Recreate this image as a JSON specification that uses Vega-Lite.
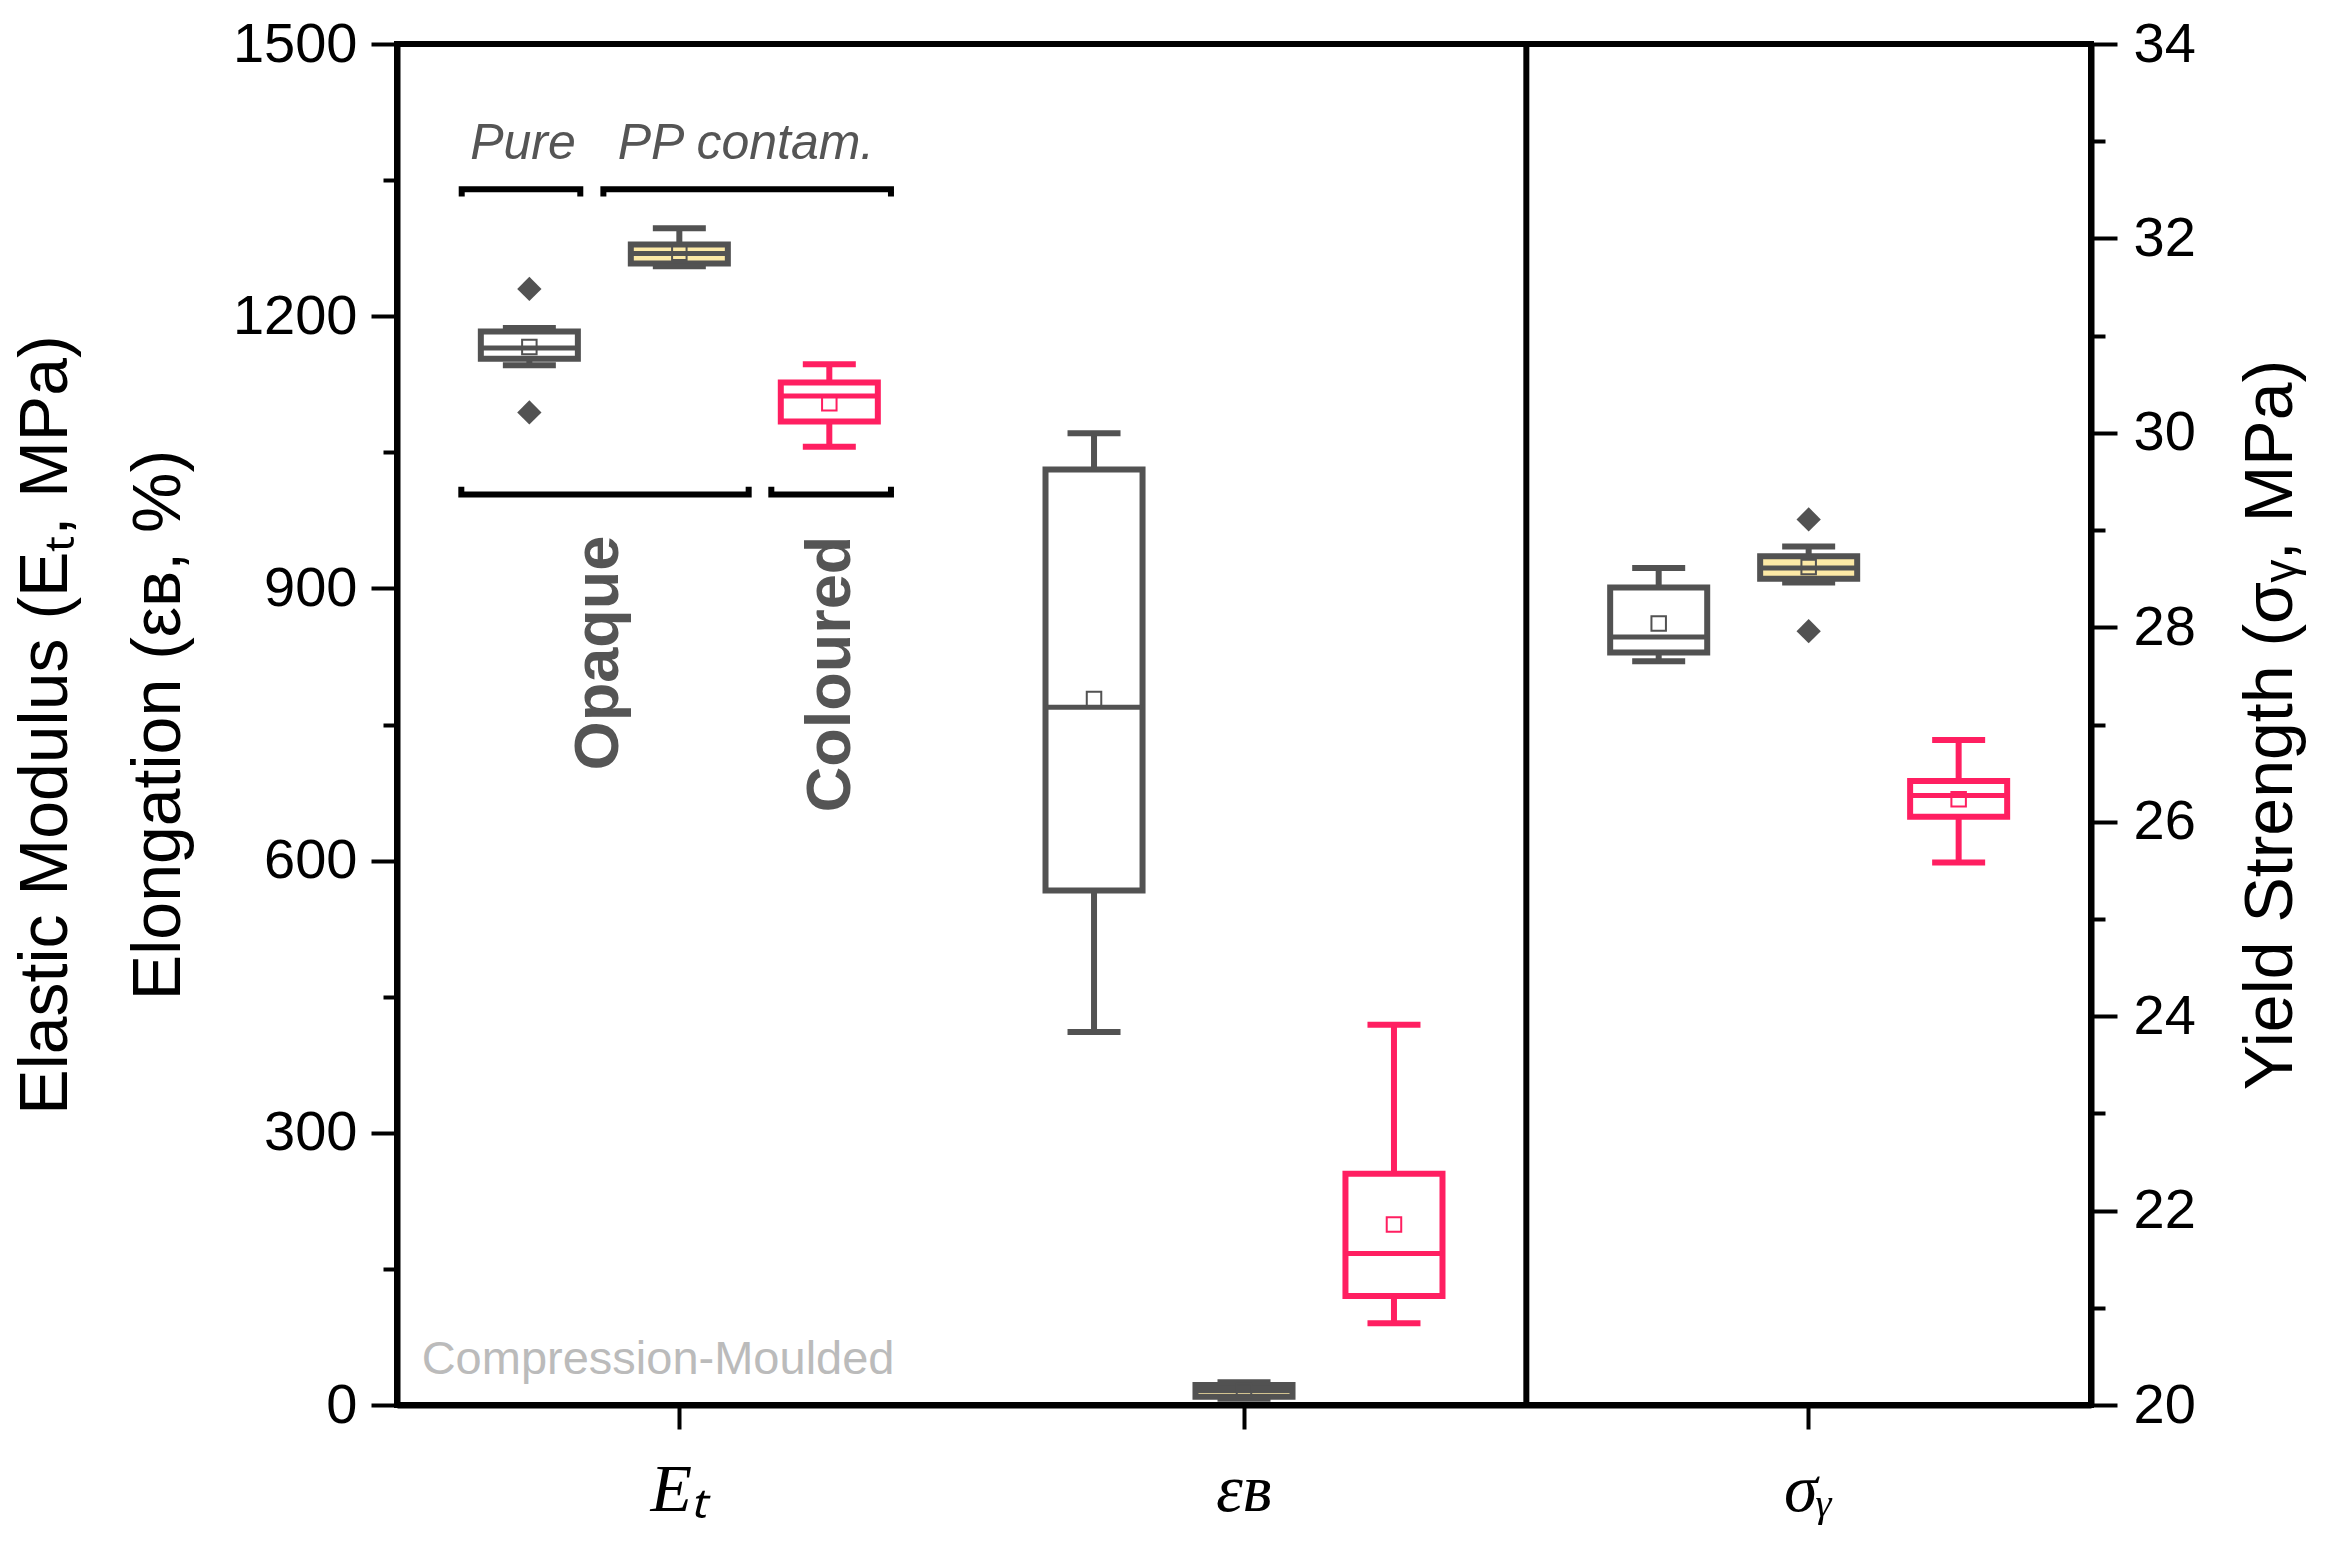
{
  "$schema": "https://vega.github.io/schema/vega-lite/v6.json",
  "autosize": "none",
  "padding": {"left": 397, "top": 44, "right": 260, "bottom": 157},
  "width": 1694,
  "height": 1361,
  "background": "white",
  "config": {
    "font": "Liberation Sans",
    "view": {"stroke": "black", "strokeWidth": 6},
    "tick": {"opacity": 1},
    "axis": {
      "domainColor": "black", "domainWidth": 6, "tickColor": "black", "tickWidth": 4,
      "labelColor": "black", "titleColor": "black", "labelFontSize": 56, "titleFontSize": 68,
      "titleFontWeight": "normal", "labelFont": "Liberation Sans", "titleFont": "Liberation Sans",
      "grid": false, "labelOverlap": false, "labelFlush": false
    }
  },
  "datasets": {
    "left": [
      {"param": "Eₜ", "grp": "Pure", "min": 1146, "q1": 1153, "median": 1165, "q3": 1183, "max": 1187, "mean": 1166},
      {"param": "Eₜ", "grp": "PP", "min": 1255, "q1": 1258, "median": 1269, "q3": 1279, "max": 1297, "mean": 1270},
      {"param": "Eₜ", "grp": "Col", "min": 1056, "q1": 1084, "median": 1112, "q3": 1127, "max": 1147, "mean": 1104},
      {"param": "εʙ", "grp": "Pure", "min": 411, "q1": 567, "median": 769, "q3": 1031, "max": 1071, "mean": 778},
      {"param": "εʙ", "grp": "PP", "min": 7, "q1": 9, "median": 16, "q3": 22, "max": 25, "mean": 16},
      {"param": "εʙ", "grp": "Col", "min": 90, "q1": 120, "median": 167, "q3": 255, "max": 419, "mean": 199}
    ],
    "right": [
      {"param": "σᵧ", "grp": "Pure", "min": 27.65, "q1": 27.74, "median": 27.90, "q3": 28.41, "max": 28.61, "mean": 28.04},
      {"param": "σᵧ", "grp": "PP", "min": 28.46, "q1": 28.50, "median": 28.61, "q3": 28.73, "max": 28.83, "mean": 28.62},
      {"param": "σᵧ", "grp": "Col", "min": 25.58, "q1": 26.05, "median": 26.27, "q3": 26.42, "max": 26.84, "mean": 26.23}
    ],
    "outLeft": [
      {"param": "Eₜ", "grp": "Pure", "v": 1230},
      {"param": "Eₜ", "grp": "Pure", "v": 1094}
    ],
    "outRight": [
      {"param": "σᵧ", "grp": "PP", "v": 29.11},
      {"param": "σᵧ", "grp": "PP", "v": 27.96}
    ],
    "brackets": [
      {"name": "Pure", "i": 0, "x": 0.1146, "y": 1332},
      {"name": "Pure", "i": 1, "x": 0.1146, "y": 1340},
      {"name": "Pure", "i": 2, "x": 0.3246, "y": 1340},
      {"name": "Pure", "i": 3, "x": 0.3246, "y": 1332},
      {"name": "PP contam.", "i": 0, "x": 0.3655, "y": 1332},
      {"name": "PP contam.", "i": 1, "x": 0.3655, "y": 1340},
      {"name": "PP contam.", "i": 2, "x": 0.8748, "y": 1340},
      {"name": "PP contam.", "i": 3, "x": 0.8748, "y": 1332},
      {"name": "Opaque", "i": 0, "x": 0.1139, "y": 1012},
      {"name": "Opaque", "i": 1, "x": 0.1139, "y": 1003.5},
      {"name": "Opaque", "i": 2, "x": 0.6228, "y": 1003.5},
      {"name": "Opaque", "i": 3, "x": 0.6228, "y": 1012},
      {"name": "Coloured", "i": 0, "x": 0.6629, "y": 1012},
      {"name": "Coloured", "i": 1, "x": 0.6629, "y": 1003.5},
      {"name": "Coloured", "i": 2, "x": 0.8748, "y": 1003.5},
      {"name": "Coloured", "i": 3, "x": 0.8748, "y": 1012}
    ],
    "groupLabels": [
      {"label": "Pure", "x": 0.2231, "y": 1373},
      {"label": "PP contam.", "x": 0.618, "y": 1373}
    ],
    "typeLabels": [
      {"label": "Opaque", "x": 0.3914, "y": 958},
      {"label": "Coloured", "x": 0.8022, "y": 958}
    ],
    "note": [
      {"label": "Compression-Moulded", "x": 0.0437, "y": 34}
    ],
    "divider": [
      {"x": 2, "y0": 0, "y1": 1500}
    ]
  },
  "resolve": {"scale": {"x": "independent", "y": "independent"}},
  "layer": [
    {
      "data": {"name": "left"},
      "encoding": {
        "x": {"field": "param", "type": "nominal", "sort": null,
          "scale": {"domain": ["Eₜ", "εʙ", "σᵧ"], "paddingInner": 0, "paddingOuter": 0, "round": false},
          "axis": {"orient": "bottom", "title": null, "labelAngle": 0, "labelFont": "Liberation Serif", "labelFontStyle": "italic", "labelFontSize": 68, "labelPadding": 27, "tickSize": 24, "tickWidth": 4}},
        "xOffset": {"field": "grp", "type": "nominal", "sort": null,
          "scale": {"domain": ["Pure", "PP", "Col"], "paddingInner": 0.353, "paddingOuter": 0.559, "round": false}}
      },
      "layer": [
        {
          "mark": {"type": "rule", "strokeWidth": 6},
          "encoding": {
            "y": {"field": "min", "type": "quantitative",
              "scale": {"domain": [0, 1500], "nice": false, "zero": false},
              "axis": {"orient": "left", "format": "d", "values": [0, 150, 300, 450, 600, 750, 900, 1050, 1200, 1350, 1500],
                "labelExpr": "datum.value % 300 === 0 ? datum.label : ''",
                "tickSize": {"condition": {"test": "datum.value % 300 === 0", "value": 26}, "value": 14},
                "labelPadding": 14, "titlePadding": 39, "titleLineHeight": 113,
                "title": ["Elastic Modulus (Eₜ, MPa)", "Elongation (εʙ, %)"]}},
            "y2": {"field": "max"},
            "color": {"field": "grp", "type": "nominal", "scale": {"domain": ["Pure", "PP", "Col"], "range": ["#525252", "#525252", "#FF1F61"]}, "legend": null}
          }
        },
        {
          "mark": {"type": "bar", "strokeWidth": 6, "strokeJoin": "miter"},
          "encoding": {
            "y": {"field": "q1", "type": "quantitative",
              "axis": {"orient": "left", "format": "d", "values": [0, 150, 300, 450, 600, 750, 900, 1050, 1200, 1350, 1500],
                "labelExpr": "datum.value % 300 === 0 ? datum.label : ''",
                "tickSize": {"condition": {"test": "datum.value % 300 === 0", "value": 26}, "value": 14},
                "labelPadding": 14, "titlePadding": 39, "titleLineHeight": 113,
                "title": ["Elastic Modulus (Eₜ, MPa)", "Elongation (εʙ, %)"]}},
            "y2": {"field": "q3"},
            "fill": {"field": "grp", "type": "nominal", "scale": {"domain": ["Pure", "PP", "Col"], "range": ["#ffffff", "#FCE9A6", "#ffffff"]}, "legend": null},
            "stroke": {"field": "grp", "type": "nominal", "scale": {"domain": ["Pure", "PP", "Col"], "range": ["#525252", "#525252", "#FF1F61"]}, "legend": null}
          }
        },
        {
          "mark": {"type": "tick", "thickness": 5, "size": 97, "opacity": 1},
          "encoding": {
            "y": {"field": "median", "type": "quantitative",
              "axis": {"orient": "left", "format": "d", "values": [0, 150, 300, 450, 600, 750, 900, 1050, 1200, 1350, 1500],
                "labelExpr": "datum.value % 300 === 0 ? datum.label : ''",
                "tickSize": {"condition": {"test": "datum.value % 300 === 0", "value": 26}, "value": 14},
                "labelPadding": 14, "titlePadding": 39, "titleLineHeight": 113,
                "title": ["Elastic Modulus (Eₜ, MPa)", "Elongation (εʙ, %)"]}},
            "color": {"field": "grp", "type": "nominal", "legend": null}
          }
        },
        {
          "mark": {"type": "tick", "thickness": 6, "size": 53, "opacity": 1},
          "encoding": {
            "y": {"field": "max", "type": "quantitative",
              "axis": {"orient": "left", "format": "d", "values": [0, 150, 300, 450, 600, 750, 900, 1050, 1200, 1350, 1500],
                "labelExpr": "datum.value % 300 === 0 ? datum.label : ''",
                "tickSize": {"condition": {"test": "datum.value % 300 === 0", "value": 26}, "value": 14},
                "labelPadding": 14, "titlePadding": 39, "titleLineHeight": 113,
                "title": ["Elastic Modulus (Eₜ, MPa)", "Elongation (εʙ, %)"]}},
            "color": {"field": "grp", "type": "nominal", "legend": null}
          }
        },
        {
          "mark": {"type": "tick", "thickness": 6, "size": 53, "opacity": 1},
          "encoding": {
            "y": {"field": "min", "type": "quantitative",
              "axis": {"orient": "left", "format": "d", "values": [0, 150, 300, 450, 600, 750, 900, 1050, 1200, 1350, 1500],
                "labelExpr": "datum.value % 300 === 0 ? datum.label : ''",
                "tickSize": {"condition": {"test": "datum.value % 300 === 0", "value": 26}, "value": 14},
                "labelPadding": 14, "titlePadding": 39, "titleLineHeight": 113,
                "title": ["Elastic Modulus (Eₜ, MPa)", "Elongation (εʙ, %)"]}},
            "color": {"field": "grp", "type": "nominal", "legend": null}
          }
        },
        {
          "mark": {"type": "point", "shape": "square", "filled": false, "size": 210, "strokeWidth": 2, "opacity": 1},
          "encoding": {
            "y": {"field": "mean", "type": "quantitative",
              "axis": {"orient": "left", "format": "d", "values": [0, 150, 300, 450, 600, 750, 900, 1050, 1200, 1350, 1500],
                "labelExpr": "datum.value % 300 === 0 ? datum.label : ''",
                "tickSize": {"condition": {"test": "datum.value % 300 === 0", "value": 26}, "value": 14},
                "labelPadding": 14, "titlePadding": 39, "titleLineHeight": 113,
                "title": ["Elastic Modulus (Eₜ, MPa)", "Elongation (εʙ, %)"]}},
            "color": {"field": "grp", "type": "nominal", "legend": null}
          }
        },
        {
          "data": {"name": "outLeft"},
          "mark": {"type": "point", "shape": "diamond", "filled": true, "size": 590, "color": "#525252", "opacity": 1},
          "encoding": {
            "y": {"field": "v", "type": "quantitative",
              "axis": {"orient": "left", "format": "d", "values": [0, 150, 300, 450, 600, 750, 900, 1050, 1200, 1350, 1500],
                "labelExpr": "datum.value % 300 === 0 ? datum.label : ''",
                "tickSize": {"condition": {"test": "datum.value % 300 === 0", "value": 26}, "value": 14},
                "labelPadding": 14, "titlePadding": 39, "titleLineHeight": 113,
                "title": ["Elastic Modulus (Eₜ, MPa)", "Elongation (εʙ, %)"]}}
          }
        }
      ]
    },
    {
      "data": {"name": "right"},
      "encoding": {
        "x": {"field": "param", "type": "nominal", "sort": null,
          "scale": {"domain": ["Eₜ", "εʙ", "σᵧ"], "paddingInner": 0, "paddingOuter": 0, "round": false},
          "axis": null},
        "xOffset": {"field": "grp", "type": "nominal", "sort": null,
          "scale": {"domain": ["Pure", "PP", "Col"], "paddingInner": 0.353, "paddingOuter": 0.559, "round": false}}
      },
      "layer": [
        {
          "mark": {"type": "rule", "strokeWidth": 6},
          "encoding": {
            "y": {"field": "min", "type": "quantitative",
              "scale": {"domain": [20, 34], "nice": false, "zero": false},
              "axis": {"orient": "right", "values": [20, 21, 22, 23, 24, 25, 26, 27, 28, 29, 30, 31, 32, 33, 34],
                "labelExpr": "datum.value % 2 === 0 ? datum.label : ''",
                "tickSize": {"condition": {"test": "datum.value % 2 === 0", "value": 26}, "value": 14},
                "labelPadding": 16, "titlePadding": 42, "titleAngle": 270, "titleBaseline": "top",
                "title": "Yield Strength (σᵧ, MPa)"}},
            "y2": {"field": "max"},
            "color": {"field": "grp", "type": "nominal", "scale": {"domain": ["Pure", "PP", "Col"], "range": ["#525252", "#525252", "#FF1F61"]}, "legend": null}
          }
        },
        {
          "mark": {"type": "bar", "strokeWidth": 6, "strokeJoin": "miter"},
          "encoding": {
            "y": {"field": "q1", "type": "quantitative",
              "axis": {"orient": "right", "values": [20, 21, 22, 23, 24, 25, 26, 27, 28, 29, 30, 31, 32, 33, 34],
                "labelExpr": "datum.value % 2 === 0 ? datum.label : ''",
                "tickSize": {"condition": {"test": "datum.value % 2 === 0", "value": 26}, "value": 14},
                "labelPadding": 16, "titlePadding": 42, "titleAngle": 270, "titleBaseline": "top",
                "title": "Yield Strength (σᵧ, MPa)"}},
            "y2": {"field": "q3"},
            "fill": {"field": "grp", "type": "nominal", "scale": {"domain": ["Pure", "PP", "Col"], "range": ["#ffffff", "#FCE9A6", "#ffffff"]}, "legend": null},
            "stroke": {"field": "grp", "type": "nominal", "scale": {"domain": ["Pure", "PP", "Col"], "range": ["#525252", "#525252", "#FF1F61"]}, "legend": null}
          }
        },
        {
          "mark": {"type": "tick", "thickness": 5, "size": 97, "opacity": 1},
          "encoding": {
            "y": {"field": "median", "type": "quantitative",
              "axis": {"orient": "right", "values": [20, 21, 22, 23, 24, 25, 26, 27, 28, 29, 30, 31, 32, 33, 34],
                "labelExpr": "datum.value % 2 === 0 ? datum.label : ''",
                "tickSize": {"condition": {"test": "datum.value % 2 === 0", "value": 26}, "value": 14},
                "labelPadding": 16, "titlePadding": 42, "titleAngle": 270, "titleBaseline": "top",
                "title": "Yield Strength (σᵧ, MPa)"}},
            "color": {"field": "grp", "type": "nominal", "legend": null}
          }
        },
        {
          "mark": {"type": "tick", "thickness": 6, "size": 53, "opacity": 1},
          "encoding": {
            "y": {"field": "max", "type": "quantitative",
              "axis": {"orient": "right", "values": [20, 21, 22, 23, 24, 25, 26, 27, 28, 29, 30, 31, 32, 33, 34],
                "labelExpr": "datum.value % 2 === 0 ? datum.label : ''",
                "tickSize": {"condition": {"test": "datum.value % 2 === 0", "value": 26}, "value": 14},
                "labelPadding": 16, "titlePadding": 42, "titleAngle": 270, "titleBaseline": "top",
                "title": "Yield Strength (σᵧ, MPa)"}},
            "color": {"field": "grp", "type": "nominal", "legend": null}
          }
        },
        {
          "mark": {"type": "tick", "thickness": 6, "size": 53, "opacity": 1},
          "encoding": {
            "y": {"field": "min", "type": "quantitative",
              "axis": {"orient": "right", "values": [20, 21, 22, 23, 24, 25, 26, 27, 28, 29, 30, 31, 32, 33, 34],
                "labelExpr": "datum.value % 2 === 0 ? datum.label : ''",
                "tickSize": {"condition": {"test": "datum.value % 2 === 0", "value": 26}, "value": 14},
                "labelPadding": 16, "titlePadding": 42, "titleAngle": 270, "titleBaseline": "top",
                "title": "Yield Strength (σᵧ, MPa)"}},
            "color": {"field": "grp", "type": "nominal", "legend": null}
          }
        },
        {
          "mark": {"type": "point", "shape": "square", "filled": false, "size": 210, "strokeWidth": 2, "opacity": 1},
          "encoding": {
            "y": {"field": "mean", "type": "quantitative",
              "axis": {"orient": "right", "values": [20, 21, 22, 23, 24, 25, 26, 27, 28, 29, 30, 31, 32, 33, 34],
                "labelExpr": "datum.value % 2 === 0 ? datum.label : ''",
                "tickSize": {"condition": {"test": "datum.value % 2 === 0", "value": 26}, "value": 14},
                "labelPadding": 16, "titlePadding": 42, "titleAngle": 270, "titleBaseline": "top",
                "title": "Yield Strength (σᵧ, MPa)"}},
            "color": {"field": "grp", "type": "nominal", "legend": null}
          }
        },
        {
          "data": {"name": "outRight"},
          "mark": {"type": "point", "shape": "diamond", "filled": true, "size": 590, "color": "#525252", "opacity": 1},
          "encoding": {
            "y": {"field": "v", "type": "quantitative",
              "axis": {"orient": "right", "values": [20, 21, 22, 23, 24, 25, 26, 27, 28, 29, 30, 31, 32, 33, 34],
                "labelExpr": "datum.value % 2 === 0 ? datum.label : ''",
                "tickSize": {"condition": {"test": "datum.value % 2 === 0", "value": 26}, "value": 14},
                "labelPadding": 16, "titlePadding": 42, "titleAngle": 270, "titleBaseline": "top",
                "title": "Yield Strength (σᵧ, MPa)"}}
          }
        }
      ]
    },
    {
      "layer": [
        {
          "data": {"name": "brackets"},
          "mark": {"type": "line", "strokeWidth": 6, "color": "black", "strokeJoin": "miter", "strokeCap": "butt"},
          "encoding": {
            "x": {"field": "x", "type": "quantitative", "scale": {"domain": [0, 3], "nice": false, "zero": false}, "axis": null},
            "y": {"field": "y", "type": "quantitative", "scale": {"domain": [0, 1500], "nice": false, "zero": false}, "axis": null},
            "detail": {"field": "name"},
            "order": {"field": "i"}
          }
        },
        {
          "data": {"name": "groupLabels"},
          "mark": {"type": "text", "fontStyle": "italic", "fontSize": 50, "color": "#555555", "align": "center", "baseline": "alphabetic"},
          "encoding": {
            "x": {"field": "x", "type": "quantitative", "axis": null},
            "y": {"field": "y", "type": "quantitative", "axis": null},
            "text": {"field": "label"}
          }
        },
        {
          "data": {"name": "typeLabels"},
          "mark": {"type": "text", "fontWeight": "bold", "fontSize": 63, "color": "#555555", "angle": 270, "align": "right", "baseline": "alphabetic"},
          "encoding": {
            "x": {"field": "x", "type": "quantitative", "axis": null},
            "y": {"field": "y", "type": "quantitative", "axis": null},
            "text": {"field": "label"}
          }
        },
        {
          "data": {"name": "note"},
          "mark": {"type": "text", "fontSize": 47, "color": "#BBBBBB", "align": "left", "baseline": "alphabetic"},
          "encoding": {
            "x": {"field": "x", "type": "quantitative", "axis": null},
            "y": {"field": "y", "type": "quantitative", "axis": null},
            "text": {"field": "label"}
          }
        },
        {
          "data": {"name": "divider"},
          "mark": {"type": "rule", "strokeWidth": 6, "color": "black"},
          "encoding": {
            "x": {"field": "x", "type": "quantitative", "axis": null},
            "y": {"field": "y0", "type": "quantitative", "axis": null},
            "y2": {"field": "y1"}
          }
        }
      ]
    }
  ]
}
